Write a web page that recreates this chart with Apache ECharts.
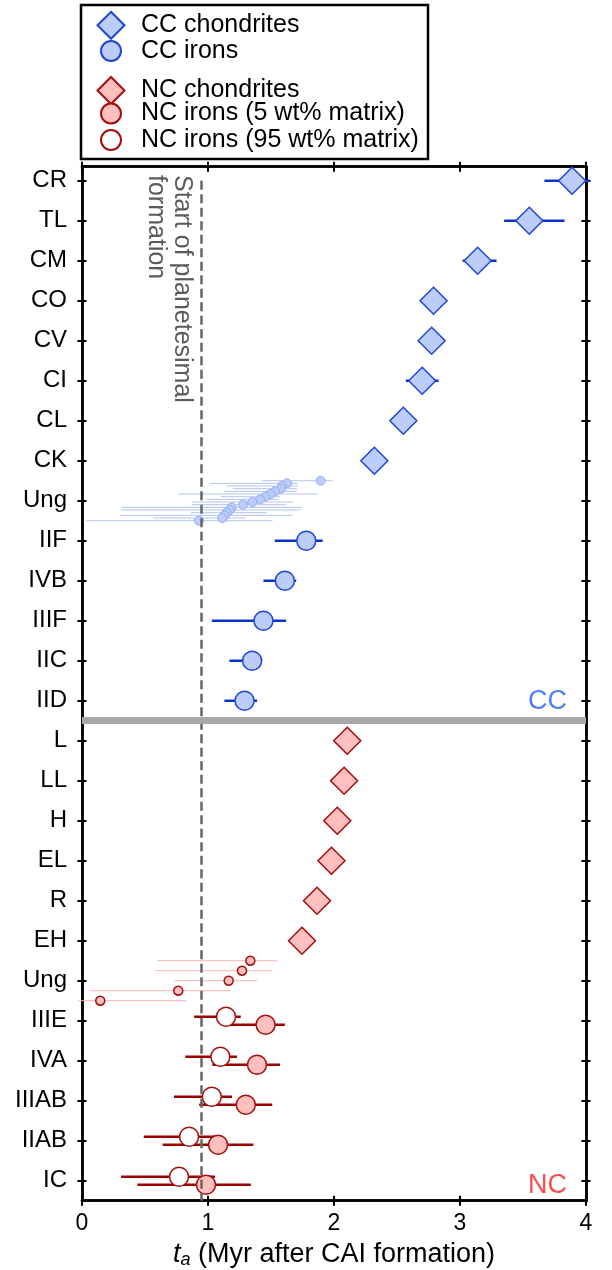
<!DOCTYPE html>
<html><head><meta charset="utf-8">
<script src="https://cdn.jsdelivr.net/npm/echarts@6/dist/echarts.min.js"></script>
<style>html,body{margin:0;padding:0;background:#fff}#c{width:612px;height:1270px}</style>
</head><body><div id="c"></div>
<script>
// ---------------- data ----------------
const yLabels = ['CR','TL','CM','CO','CV','CI','CL','CK','Ung','IIF','IVB','IIIF','IIC','IID',
                 'L','LL','H','EL','R','EH','Ung','IIIE','IVA','IIIAB','IIAB','IC'];
const xTicks = [0, 1, 2, 3, 4];

const ccChondriteNames = ['CR','TL','CM','CO','CV','CI','CL','CK'];
const ccChondriteAge   = [3.89, 3.55, 3.14, 2.79, 2.775, 2.70, 2.55, 2.32];
const ccChondriteLow   = [3.67, 3.35, 3.02, 2.76, 2.745, 2.57, 2.52, 2.29];
const ccChondriteHigh  = [4.03, 3.83, 3.29, 2.82, 2.805, 2.83, 2.58, 2.35];

const ccIronNames = ['IIF','IVB','IIIF','IIC','IID'];
const ccIronAge   = [1.78, 1.61, 1.44, 1.35, 1.29];
const ccIronLow   = [1.53, 1.44, 1.03, 1.17, 1.13];
const ccIronHigh  = [1.91, 1.70, 1.62, 1.43, 1.39];

const ccUngAge  = [1.894, 1.627, 1.587, 1.579, 1.532, 1.495, 1.455, 1.413, 1.352, 1.278, 1.188, 1.172, 1.148, 1.132, 1.113, 0.929];
const ccUngLow  = [1.429, 1.016, 1.148, 1.196, 1.122, 0.765, 1.103, 0.989, 0.876, 0.870, 0.315, 0.307, 0.865, 0.300, 0.566, 0.032];
const ccUngHigh = [1.990, 1.709, 1.717, 1.709, 1.704, 1.868, 1.571, 1.558, 1.677, 1.620, 1.744, 1.736, 1.466, 1.672, 1.300, 1.513];

const ncChondriteNames = ['L','LL','H','EL','R','EH'];
const ncChondriteAge   = [2.105, 2.08, 2.026, 1.98, 1.865, 1.746];

const ncUngAge  = [1.336, 1.270, 1.164, 0.764, 0.145];
const ncUngLow  = [0.595, 0.580, 0.730, 0.070, -0.03];
const ncUngHigh = [1.548, 1.510, 1.390, 1.180, 0.830];

const ncIronNames = ['IIIE','IVA','IIIAB','IIAB','IC'];
const nc5Age   = [1.457, 1.389, 1.300, 1.080, 0.984];
const nc5Low   = [1.180, 1.034, 0.930, 0.640, 0.440];
const nc5High  = [1.610, 1.571, 1.510, 1.360, 1.340];
const nc95Age  = [1.143, 1.098, 1.030, 0.850, 0.770];
const nc95Low  = [0.890, 0.820, 0.730, 0.490, 0.310];
const nc95High = [1.260, 1.230, 1.190, 1.080, 1.056];

const planetesimalStart = 0.95;

// ---------------- styling ----------------
const FONT = 'Liberation Sans, Arial, Helvetica, sans-serif';
const ccFill = '#bccdf9', ccStroke = '#1d45d9', ccBar = '#0b32cc';
const ccUngStroke = '#93aef5', ccUngBar = '#b4c6f7';
const ncFill = '#ffbfbf', ncStroke = '#a30d0d', ncBar = '#9e0000', ncUngBar = '#ffb4b4';

const ccRow = n => yLabels.indexOf(n);
const ncRow = n => yLabels.lastIndexOf(n);
const spread = (i, n) => -0.5 + i / (n - 1);
const PAIR = 0.1;

function bars(ages, low, high, rows) {
  return ages.map((a, i) => [low[i], high[i], rows[i]]);
}
function errSeries(name, data, color, width) {
  return {
    type: 'custom', name: name, data: data, silent: true,
    encode: { x: [0, 1], y: 2 },
    renderItem: function (params, api) {
      const y = api.value(2);
      const p1 = api.coord([api.value(0), y]);
      const p2 = api.coord([api.value(1), y]);
      return { type: 'line', shape: { x1: p1[0], y1: p1[1], x2: p2[0], y2: p2[1] },
               style: { stroke: color, lineWidth: width } };
    }
  };
}
function scatter(name, pts, symbol, size, fill, stroke, bw) {
  return { type: 'scatter', name: name, data: pts, symbol: symbol, symbolSize: size,
           itemStyle: { color: fill, borderColor: stroke, borderWidth: bw, opacity: 1 }, silent: true };
}

const ccChRows = ccChondriteNames.map(ccRow);
const ccIrRows = ccIronNames.map(ccRow);
const ccUngRows = ccUngAge.map((a, i) => ccRow('Ung') + spread(i, ccUngAge.length));
const ncChRows = ncChondriteNames.map(ncRow);
const ncUngRows = ncUngAge.map((a, i) => ncRow('Ung') + spread(i, ncUngAge.length));
const nc5Rows = ncIronNames.map(n => ncRow(n) + PAIR);
const nc95Rows = ncIronNames.map(n => ncRow(n) - PAIR);

const pts = (ages, rows) => ages.map((a, i) => [a, rows[i]]);

const series = [
  { type: 'line', data: [], silent: true,
    markLine: { silent: true, symbol: 'none', animation: false, label: { show: false },
      data: [
        [{ coord: [planetesimalStart, 0], lineStyle: { color: '#666', width: 2.5, type: [9, 4.5] } },
         { coord: [planetesimalStart, 25.5] }],
        [{ coord: [0, 13.5], lineStyle: { color: '#a9a9a9', width: 7, type: 'solid' } },
         { coord: [4, 13.5] }]
      ] } },
  errSeries('ccChErr', bars(ccChondriteAge, ccChondriteLow, ccChondriteHigh, ccChRows), ccBar, 2.5),
  scatter('CC chondrites', pts(ccChondriteAge, ccChRows), 'diamond', 27, ccFill, ccStroke, 1.5),
  errSeries('ccIrErr', bars(ccIronAge, ccIronLow, ccIronHigh, ccIrRows), ccBar, 2.5),
  scatter('CC irons', pts(ccIronAge, ccIrRows), 'circle', 19, ccFill, ccStroke, 1.5),
  errSeries('ccUngErr', bars(ccUngAge, ccUngLow, ccUngHigh, ccUngRows), ccUngBar, 1),
  scatter('ccUng', pts(ccUngAge, ccUngRows), 'circle', 9, ccFill, ccUngStroke, 1),
  scatter('NC chondrites', pts(ncChondriteAge, ncChRows), 'diamond', 27, ncFill, ncStroke, 1.5),
  errSeries('ncUngErr', bars(ncUngAge, ncUngLow, ncUngHigh, ncUngRows), ncUngBar, 1),
  scatter('ncUng', pts(ncUngAge, ncUngRows), 'circle', 9, ncFill, ncStroke, 1.5),
  errSeries('nc5Err', bars(nc5Age, nc5Low, nc5High, nc5Rows), ncBar, 2.5),
  scatter('NC irons (5 wt% matrix)', pts(nc5Age, nc5Rows), 'circle', 19, ncFill, ncStroke, 1.5),
  errSeries('nc95Err', bars(nc95Age, nc95Low, nc95High, nc95Rows), ncBar, 2.5),
  scatter('NC irons (95 wt% matrix)', pts(nc95Age, nc95Rows), 'circle', 19, '#ffffff', ncStroke, 1.5)
];

const rowIdx = yLabels.map((l, i) => i);
const axLine = { show: true, onZero: false, lineStyle: { color: '#000', width: 2.5 } };
function xAx(pos, inside, labels) {
  return { type: 'value', position: pos, min: xTicks[0], max: xTicks[xTicks.length - 1], interval: 1,
    axisLine: axLine, splitLine: { show: false },
    axisTick: { show: true, inside: inside, length: 5, lineStyle: { color: '#000', width: 2 } },
    axisLabel: labels ? { show: true, fontSize: 23, fontFamily: FONT, color: '#000', margin: 11 } : { show: false },
    name: labels ? '{it|t}{sub|a} (Myr after CAI formation)' : '',
    nameLocation: 'middle', nameGap: 40,
    nameTextStyle: { fontSize: 27, fontFamily: FONT, color: '#000',
      rich: { it: { fontSize: 27, fontStyle: 'italic', fontFamily: FONT },
              sub: { fontSize: 18, fontStyle: 'italic', fontFamily: FONT, verticalAlign: 'bottom', padding: [10, 0, 0, 0] } } }
  };
}
function yAx(pos, inside, labels) {
  return { type: 'value', position: pos, min: -0.35, max: 25.5, inverse: true,
    axisLine: axLine, splitLine: { show: false },
    axisTick: { show: true, inside: inside, length: 4.5, customValues: rowIdx, lineStyle: { color: '#000', width: 2 } },
    axisLabel: labels ? { show: true, customValues: rowIdx, fontSize: 24, fontFamily: FONT, color: '#000', margin: 15,
      formatter: v => yLabels[Math.round(v)] } : { show: false }
  };
}

function legendItem(name, left, top, w, h) {
  return { data: [name], orient: 'vertical', left: left, top: top, itemWidth: w, itemHeight: h,
    padding: 0, selectedMode: false,
    textStyle: { fontSize: 25, fontFamily: FONT, color: '#000', lineHeight: 25,
                 padding: [0, 0, 0, 140 - (left + w + 5)] } };
}

const option = {
  animation: false,
  backgroundColor: '#fff',
  grid: { left: 82, right: 26, top: 166.7, bottom: 69.3, containLabel: false, outerBoundsMode: 'none' },
  xAxis: [xAx('bottom', true, true), xAx('bottom', false, false), xAx('top', true, false), xAx('top', false, false)],
  yAxis: [yAx('left', false, true), yAx('left', true, false), yAx('right', true, false), yAx('right', false, false)],
  legend: [
    legendItem('CC chondrites', 96.5, 10.8, 27, 27),
    legendItem('CC irons', 100, 38.5, 20, 20),
    legendItem('NC chondrites', 96.5, 76, 27, 27),
    legendItem('NC irons (5 wt% matrix)', 100, 101, 20, 20),
    legendItem('NC irons (95 wt% matrix)', 100, 127.5, 20, 20)
  ],
  graphic: [
    { type: 'rect', shape: { x: 81, y: 5, width: 347, height: 154 }, style: { fill: 'none', stroke: '#000', lineWidth: 2.5 }, silent: true },
    { type: 'text', x: 194.7, y: 175, rotation: -Math.PI / 2, silent: true,
      style: { text: 'Start of planetesimal\nformation', fontSize: 25, fontFamily: FONT, fill: '#5a5a5a',
               lineHeight: 26, align: 'left', verticalAlign: 'top' } },
    { type: 'text', x: 567, y: 702, silent: true,
      style: { text: 'CC', fontSize: 27, fontFamily: FONT, fill: '#4d7dff', align: 'right', verticalAlign: 'middle' } },
    { type: 'text', x: 567, y: 1186, silent: true,
      style: { text: 'NC', fontSize: 27, fontFamily: FONT, fill: '#ff4a4a', align: 'right', verticalAlign: 'middle' } }
  ],
  series: series
};

const chart = echarts.init(document.getElementById('c'));
chart.setOption(option);
</script>
</body></html>
